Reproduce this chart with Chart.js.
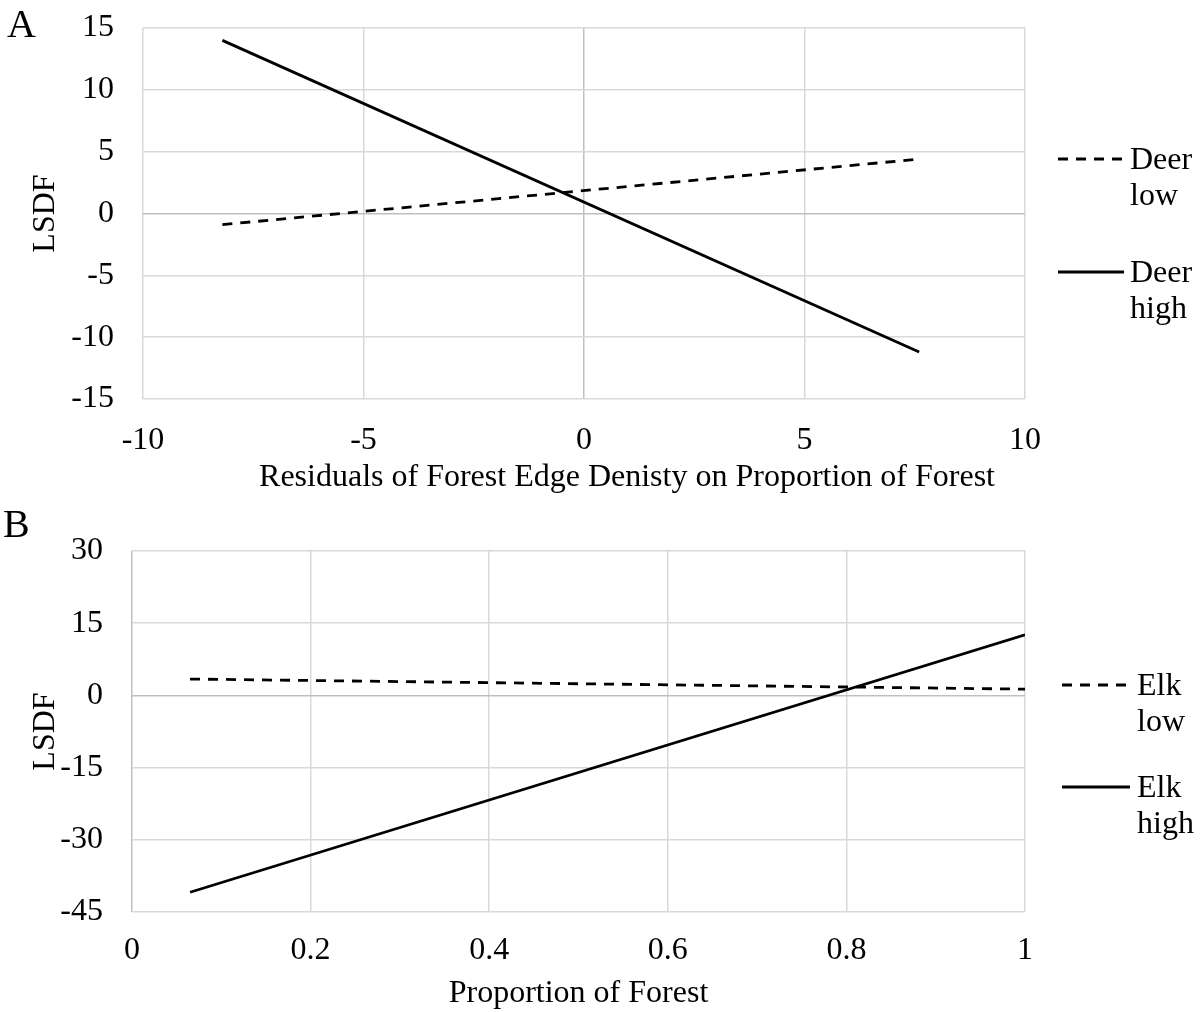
<!DOCTYPE html>
<html>
<head>
<meta charset="utf-8">
<script src="https://cdn.jsdelivr.net/npm/chart.js@4/dist/chart.umd.min.js"></script>
<style>
  body { margin: 0; background: #fff; }
  #wrap { position: relative; width: 1204px; height: 1012px; }
  canvas { position: absolute; left: 0; }
  .panel { position: absolute; font-family: 'Liberation Serif', 'Times New Roman', serif; font-size: 40px; color: #000; }
</style>
</head>
<body>
<div id="wrap">
  <canvas id="chart-a" width="1204" height="500" style="top:0"></canvas>
  <canvas id="chart-b" width="1204" height="512" style="top:500px"></canvas>
  <div class="panel" style="left:7px; top:0px;">A</div>
  <div class="panel" style="left:3px; top:500px;">B</div>
</div>
<script>
// panel A
const deerX = [-8.2, 7.6];
const deerLow = [-0.9, 4.4];
const deerHigh = [14.0, -11.2];
const deerTicksX = [-10, -5, 0, 5, 10];
const deerTicksY = [-15, -10, -5, 0, 5, 10, 15];

// panel B
const elkX = [0.065, 1.0];
const elkLow = [3.4, 1.3];
const elkHigh = [-40.9, 12.6];
const elkTicksX = [0, 0.2, 0.4, 0.6, 0.8, 1];
const elkTicksY = [-45, -30, -15, 0, 15, 30];

const serif = "'Liberation Serif', 'Times New Roman', serif";
const fs = 32;
Chart.defaults.font.family = serif;
Chart.defaults.color = '#000';

const pts = (xs, ys) => xs.map((x, i) => ({x: x, y: ys[i]}));

// x-axis title (may sit off-centre) and the two-line legend on the right
const extras = {
    id: 'extras',
    afterDraw(chart, args, opts) {
        const ctx = chart.ctx;
        const area = chart.chartArea;
        ctx.save();
        ctx.font = fs + 'px ' + serif;
        ctx.fillStyle = '#000';
        ctx.textBaseline = 'middle';
        ctx.textAlign = 'center';
        ctx.fillText(opts.xTitle, (area.left + area.right) / 2 + opts.titleShift, opts.titleY);
        ctx.textAlign = 'left';
        const lg = opts.legend;
        chart.data.datasets.forEach((ds, i) => {
            const y = lg.ys[i];
            ctx.beginPath();
            ctx.setLineDash(ds.borderDash || []);
            ctx.lineWidth = ds.borderWidth;
            ctx.strokeStyle = ds.borderColor;
            ctx.moveTo(lg.x, y);
            ctx.lineTo(lg.x + lg.len, y);
            ctx.stroke();
            const words = ds.label.split(' ');
            words.forEach((w, j) => ctx.fillText(w, lg.x + lg.len + lg.gap, y + 2 + j * 36));
        });
        ctx.restore();
    }
};

function makeChart(id, xs, low, high, names, tx, ty, xTitle, geo) {
    const gridColor = ctx => ctx.tick && ctx.tick.value === 0 ? '#bfbfbf' : '#d9d9d9';
    const noPad = s => { s.paddingTop = 0; s.paddingBottom = 0; s.paddingLeft = 0; s.paddingRight = 0; };
    return new Chart(document.getElementById(id), {
        type: 'scatter',
        data: {
            datasets: [
                {label: names[0], data: pts(xs, low), showLine: true, borderColor: '#000',
                 borderWidth: 2.8, borderDash: [10, 8], pointRadius: 0},
                {label: names[1], data: pts(xs, high), showLine: true, borderColor: '#000',
                 borderWidth: 2.8, pointRadius: 0}
            ]
        },
        options: {
            responsive: false,
            animation: false,
            layout: {padding: {left: 0, right: 179, top: geo.top, bottom: 0}},
            plugins: {
                legend: {display: false},
                tooltip: {enabled: false},
                extras: {xTitle: xTitle, titleShift: geo.titleShift, titleY: geo.titleY, legend: geo.legend}
            },
            scales: {
                x: {
                    type: 'linear',
                    min: tx[0], max: tx[tx.length - 1],
                    afterBuildTicks: s => { s.ticks = tx.map(v => ({value: v})); },
                    afterFit: s => { s.height = geo.xh; noPad(s); },
                    grid: {color: gridColor, lineWidth: 1.5, drawTicks: false},
                    border: {display: false},
                    ticks: {font: {size: fs}, padding: geo.xpad, maxRotation: 0, callback: v => String(v)},
                    title: {display: false}
                },
                y: {
                    type: 'linear',
                    min: ty[0], max: ty[ty.length - 1],
                    afterBuildTicks: s => { s.ticks = ty.map(v => ({value: v})); },
                    afterFit: s => { s.width = geo.yw; noPad(s); },
                    grid: {color: gridColor, lineWidth: 1.5, drawTicks: false},
                    border: {display: false},
                    ticks: {font: {size: fs}, padding: 29, callback: v => String(v)},
                    title: {display: true, text: 'LSDF', font: {size: fs}, padding: {top: 26}}
                }
            }
        },
        plugins: [extras]
    });
}

makeChart('chart-a', deerX, deerLow, deerHigh, ['Deer low', 'Deer high'],
    deerTicksX, deerTicksY, 'Residuals of Forest Edge Denisty on Proportion of Forest',
    {top: 28, xh: 101, yw: 143, xpad: 22, titleShift: 43, titleY: 478,
     legend: {x: 1058, len: 66, gap: 6, ys: [159, 272]}});

makeChart('chart-b', elkX, elkLow, elkHigh, ['Elk low', 'Elk high'],
    elkTicksX, elkTicksY, 'Proportion of Forest',
    {top: 51, xh: 100, yw: 132, xpad: 19, titleShift: 0, titleY: 494,
     legend: {x: 1062, len: 68, gap: 7, ys: [185, 287]}});
</script>
</body>
</html>
